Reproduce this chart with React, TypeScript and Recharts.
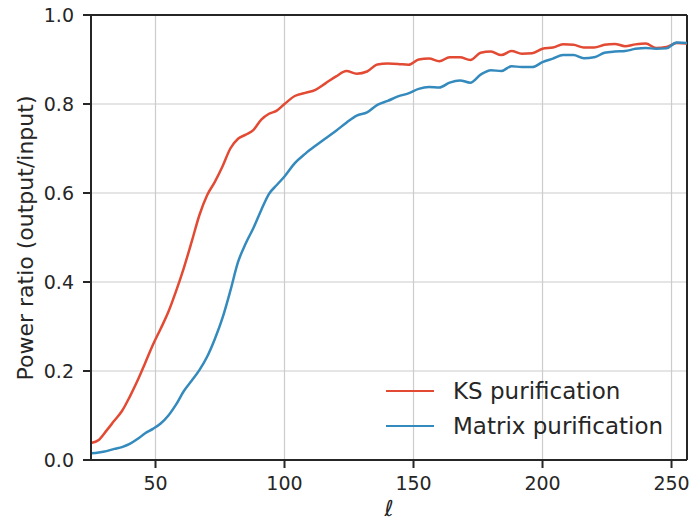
import React from "react";
import {
  CartesianGrid,
  Label,
  Line,
  LineChart,
  ReferenceLine,
  XAxis,
  YAxis,
} from "recharts";

// multipole ell samples
const ells = [
  25, 28, 31, 34, 37, 40, 43, 46, 49, 52, 55, 58, 61, 64, 67, 70, 73, 76, 79, 82,
  85, 88, 91, 94, 97, 100, 104, 108, 112, 116, 120, 124, 128, 132, 136, 140, 144,
  148, 152, 156, 160, 164, 168, 172, 176, 180, 184, 188, 192, 196, 200, 204, 208,
  212, 216, 220, 224, 228, 232, 236, 240, 244, 248, 252, 256,
];

const ksPurification = [
  0.038, 0.045, 0.066, 0.088, 0.11, 0.142, 0.178, 0.218, 0.259, 0.295, 0.333,
  0.38, 0.432, 0.49, 0.55, 0.595, 0.625, 0.66, 0.7, 0.722, 0.731, 0.742, 0.765,
  0.778, 0.785, 0.8, 0.818, 0.825, 0.832, 0.847, 0.862, 0.874, 0.868, 0.873,
  0.889, 0.891, 0.89, 0.888, 0.9, 0.902, 0.896, 0.905, 0.905, 0.899, 0.915,
  0.918, 0.91, 0.919, 0.913, 0.914, 0.924, 0.927, 0.934, 0.933, 0.927, 0.927,
  0.933, 0.935, 0.93, 0.934, 0.936, 0.926, 0.928, 0.937, 0.936,
];

const matrixPurification = [
  0.015, 0.017, 0.02, 0.025, 0.029, 0.036, 0.047, 0.06, 0.07, 0.082, 0.1, 0.125,
  0.155, 0.178, 0.202, 0.232, 0.272, 0.32, 0.38, 0.445, 0.487, 0.522, 0.562,
  0.598, 0.618, 0.637, 0.667, 0.688, 0.706, 0.723, 0.74, 0.758, 0.774, 0.781,
  0.798, 0.807, 0.817, 0.824, 0.834, 0.838, 0.837, 0.848, 0.853, 0.848, 0.866,
  0.876, 0.874, 0.885, 0.883, 0.883, 0.894, 0.902, 0.91, 0.91, 0.903, 0.905,
  0.915, 0.918, 0.919, 0.924, 0.926, 0.924, 0.925, 0.938, 0.937,
];

const xTicks = [50, 100, 150, 200, 250];
const yTicks = [0, 0.2, 0.4, 0.6, 0.8, 1.0];

const data = ells.map((ell, i) => ({
  ell,
  ks: ksPurification[i],
  matrix: matrixPurification[i],
}));

const INK = "#262626";
const RED = "#E24A33";
const BLUE = "#348ABD";
const FONT = "'DejaVu Sans', sans-serif";

function LegendBox() {
  const items = [
    { label: "KS purification", color: RED },
    { label: "Matrix purification", color: BLUE },
  ];
  return (
    <div
      style={{
        position: "absolute",
        left: 386,
        top: 373,
        fontFamily: FONT,
        fontSize: 23,
        color: INK,
      }}
    >
      {items.map((it) => (
        <div
          key={it.label}
          style={{ display: "flex", alignItems: "center", height: 35 }}
        >
          <div
            style={{
              width: 48,
              height: 0,
              borderTop: `2.5px solid ${it.color}`,
              marginRight: 19,
            }}
          />
          <span>{it.label}</span>
        </div>
      ))}
    </div>
  );
}

export default function App() {
  return (
    <div style={{ position: "absolute", left: 0, top: 0, background: "#fff" }}>
      <LineChart
        width={693}
        height={521}
        data={data}
        margin={{ top: 15, right: 6, bottom: 0, left: 0 }}
      >
        <CartesianGrid stroke="#cccccc" strokeWidth={1.2} />
        <XAxis
          dataKey="ell"
          type="number"
          domain={[25, 256]}
          ticks={xTicks}
          height={61}
          tickSize={8}
          tickMargin={9}
          stroke={INK}
          strokeWidth={2}
          tick={{ fill: INK, fontSize: 19, fontFamily: FONT }}
          allowDataOverflow
        >
          <Label
            content={() => (
              <text
                x={389}
                y={516}
                textAnchor="middle"
                fontFamily={FONT}
                fontStyle="italic"
                fontSize={22}
                fill={INK}
              >
                ℓ
              </text>
            )}
          />
        </XAxis>
        <YAxis
          type="number"
          domain={[0, 1]}
          ticks={yTicks}
          width={91}
          tickSize={8}
          tickMargin={9}
          stroke={INK}
          strokeWidth={2}
          tickFormatter={(v: number) => v.toFixed(1)}
          tick={{ fill: INK, fontSize: 19, fontFamily: FONT }}
        >
          <Label
            content={() => (
              <text
                x={25}
                y={238}
                transform="rotate(-90 25 238)"
                textAnchor="middle"
                dominantBaseline="central"
                fontFamily={FONT}
                fontSize={22}
                fill={INK}
              >
                Power ratio (output/input)
              </text>
            )}
          />
        </YAxis>
        <ReferenceLine y={1} stroke={INK} strokeWidth={2} />
        <ReferenceLine x={256} stroke={INK} strokeWidth={2} />
        <Line
          type="monotone"
          dataKey="ks"
          name="KS purification"
          stroke={RED}
          strokeWidth={2.5}
          dot={false}
          isAnimationActive={false}
        />
        <Line
          type="monotone"
          dataKey="matrix"
          name="Matrix purification"
          stroke={BLUE}
          strokeWidth={2.5}
          dot={false}
          isAnimationActive={false}
        />
      </LineChart>
      <LegendBox />
    </div>
  );
}
